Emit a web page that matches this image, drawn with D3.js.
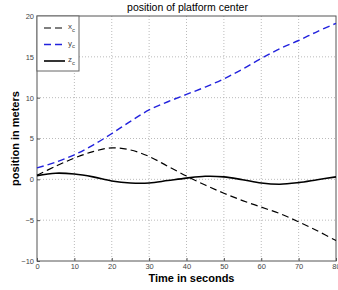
<!DOCTYPE html>
<html>
<head>
<meta charset="utf-8">
<script src="https://cdn.jsdelivr.net/npm/d3@7"></script>
<style>
body { margin: 0; background: #fff; }
svg { font-family: "Liberation Sans", Arial, sans-serif; }
</style>
</head>
<body>
<div id="container"></div>
<script>
// every 5 s
let time = [0, 5, 10, 15, 20, 25, 30, 35, 40, 45, 50, 55, 60, 65, 70, 75, 80]
let xc = [0.5, 1.6, 2.6, 3.4, 3.85, 3.6, 2.8, 1.6, 0.4, -0.7, -1.7, -2.6, -3.4, -4.2, -5.2, -6.3, -7.5]
let yc = [1.4, 2.1, 3.0, 4.2, 5.6, 7.1, 8.5, 9.5, 10.4, 11.3, 12.3, 13.5, 14.8, 16.0, 17.0, 18.1, 19.1]
let zc = [0.45, 0.75, 0.65, 0.3, -0.2, -0.45, -0.45, -0.15, 0.15, 0.37, 0.3, -0.05, -0.45, -0.6, -0.4, -0.05, 0.3]
let xTicks = [0, 10, 20, 30, 40, 50, 60, 70, 80]
let yTicks = [-10, -5, 0, 5, 10, 15, 20]

let series = [
    {name: "x", values: xc, color: "#000", dash: "7,4", width: 1.2},
    {name: "y", values: yc, color: "#2222dd", dash: "7,4", width: 1.4},
    {name: "z", values: zc, color: "#000", dash: null, width: 1.6}
]

let W = 338, H = 290
let pLeft = 37, pRight = 336, pTop = 16, pBottom = 261

let svg = d3.select("#container").append("svg")
    .attr("width", W).attr("height", H)

let x = d3.scaleLinear().domain([0, 80]).range([pLeft, pRight])
let y = d3.scaleLinear().domain([-10, 20]).range([pBottom, pTop])

// grid
svg.append("g").selectAll("line").data(xTicks.slice(1, -1)).enter().append("line")
    .attr("x1", d => x(d)).attr("x2", d => x(d))
    .attr("y1", pTop).attr("y2", pBottom)
    .attr("stroke", "#aaa").attr("stroke-width", 0.8).attr("stroke-dasharray", "1,2")
svg.append("g").selectAll("line").data(yTicks.slice(1, -1)).enter().append("line")
    .attr("y1", d => y(d)).attr("y2", d => y(d))
    .attr("x1", pLeft).attr("x2", pRight)
    .attr("stroke", "#aaa").attr("stroke-width", 0.8).attr("stroke-dasharray", "1,2")

// axes
let xAxis = d3.axisBottom(x).tickValues(xTicks).tickSize(-3).tickPadding(3)
let yAxis = d3.axisLeft(y).tickValues(yTicks).tickSize(-3).tickPadding(3)
let gx = svg.append("g").attr("transform", `translate(0,${pBottom})`).call(xAxis)
let gy = svg.append("g").attr("transform", `translate(${pLeft},0)`).call(yAxis)
;[gx, gy].forEach(g => {
    g.select(".domain").remove()
    g.selectAll("line").attr("stroke", "#555")
    g.selectAll("text").attr("font-size", 7.5).attr("fill", "#444")
})

// box
svg.append("rect")
    .attr("x", pLeft).attr("y", pTop)
    .attr("width", pRight - pLeft).attr("height", pBottom - pTop)
    .attr("fill", "none").attr("stroke", "#555").attr("stroke-width", 1)

// lines
let line = d3.line()
    .x((d, i) => x(time[i]))
    .y(d => y(d))
    .curve(d3.curveCatmullRom)

svg.append("g").selectAll("path").data(series).enter().append("path")
    .attr("d", d => line(d.values))
    .attr("fill", "none")
    .attr("stroke", d => d.color)
    .attr("stroke-width", d => d.width)
    .attr("stroke-dasharray", d => d.dash)

// legend
let lg = svg.append("g")
lg.append("rect").attr("x", pLeft).attr("y", pTop).attr("width", 42).attr("height", 55)
    .attr("fill", "#fff").attr("stroke", "#666").attr("stroke-width", 1)
series.forEach((s, i) => {
    let ly = pTop + 12 + i * 16.5
    lg.append("line").attr("x1", pLeft + 7).attr("x2", pLeft + 28)
        .attr("y1", ly).attr("y2", ly)
        .attr("stroke", s.color).attr("stroke-width", s.width)
        .attr("stroke-dasharray", s.dash)
    let t = lg.append("text").attr("x", pLeft + 31).attr("y", ly + 1)
        .attr("font-size", 8).attr("fill", "#444")
    t.append("tspan").text(s.name)
    t.append("tspan").attr("dy", 2.5).attr("font-size", 6).text("c")
})

// titles
svg.append("text").attr("x", (pLeft + pRight) / 2 + 1).attr("y", 11)
    .attr("text-anchor", "middle").attr("font-size", 10.5).text("position of platform center")
svg.append("text").attr("x", (pLeft + pRight) / 2 + 5).attr("y", 282)
    .attr("text-anchor", "middle").attr("font-size", 11).attr("font-weight", "bold")
    .text("Time in seconds")
svg.append("text")
    .attr("transform", `translate(19,${(pTop + pBottom) / 2}) rotate(-90)`)
    .attr("text-anchor", "middle").attr("font-size", 11).attr("font-weight", "bold")
    .text("position in meters")
</script>
</body>
</html>
